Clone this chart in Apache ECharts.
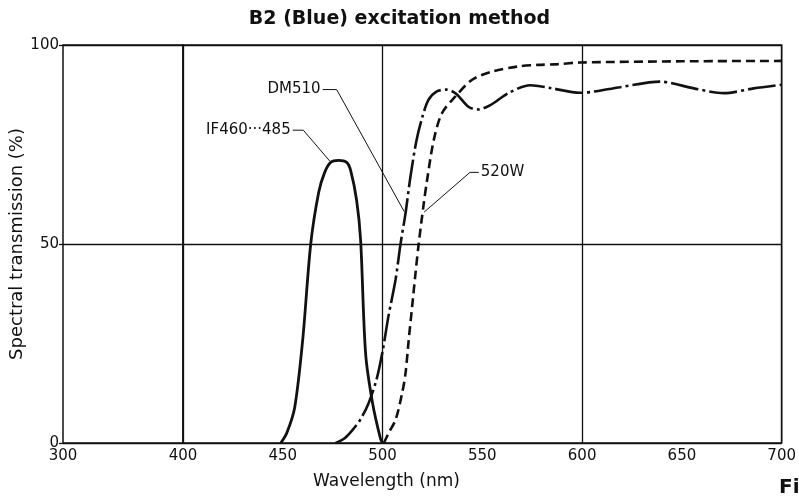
<!DOCTYPE html>
<html>
<head>
<meta charset="utf-8">
<title>B2 (Blue) excitation method</title>
<script src="https://cdn.jsdelivr.net/npm/echarts@6/dist/echarts.min.js"></script>
<style>
    html, body { margin: 0; padding: 0; background: #fff; }
    #echarts { width: 799px; height: 498px; }
</style>
</head>
<body>
<div id="echarts"></div>
<script>
// wavelengths (nm) and transmission (%)
var ifWave = [449, 452, 456, 460, 464, 468, 471, 474, 478, 482, 484, 487, 489, 491.5, 495, 499, 500];
var ifValue = [0, 2.5, 9, 26, 50, 63, 68, 70.5, 71, 70.5, 68.5, 61, 51, 22.5, 10, 1, 0];

var dmWave = [476.5, 481, 485, 489, 493, 497, 500, 503, 506.5, 509, 511.5, 514, 517, 520, 523, 527, 532, 537, 543, 548, 554, 563, 574, 584, 599, 619, 639, 656, 671, 686, 700];
var dmValue = [0, 1.2, 3.3, 6, 10, 16, 23, 32, 41, 50, 57.7, 67, 76, 82, 86.2, 88.3, 88.8, 87.7, 84.5, 83.8, 84.9, 87.9, 89.9, 89.2, 88.0, 89.4, 90.8, 89.1, 87.9, 89.1, 90.0];

var bwWave = [500.7, 503, 506.5, 509.8, 511.5, 513.1, 514.8, 516.5, 518.1, 520.6, 522.3, 525.6, 529.7, 536.4, 544.7, 554.6, 568, 578, 588, 599, 650, 700];
var bwValue = [0, 2.5, 5.8, 12.5, 17.5, 25.9, 34.2, 42.6, 50, 60, 66, 76, 82.8, 87, 91.2, 93.3, 94.6, 95.0, 95.2, 95.6, 95.9, 96.0];

// tick labels
var leftTicks = [300];
var rightTicks = [400, 450, 500, 550, 600, 650, 700];

// leader lines for the curve names (data coordinates)
var dmLeader = [[470, 88.8], [477, 88.8], [510.8, 58.2]];
var ifLeader = [[455, 78.6], [460.3, 78.6], [473.6, 70.8]];
var bwLeader = [[520.8, 58], [543.8, 68], [548.2, 68]];

function pairs(xs, ys) {
    var out = [];
    for (var i = 0; i < xs.length; i++) {
        out.push([xs[i], ys[i]]);
    }
    return out;
}

function leader(points, text, labelAt, pos) {
    var data = [];
    for (var i = 0; i < points.length; i++) {
        if (i == labelAt) {
            data.push({
                value: points[i],
                label: {show: true, formatter: text, position: pos, distance: 2,
                        color: '#111', fontSize: 15, fontFamily: 'DejaVu Sans'}
            });
        } else {
            data.push(points[i]);
        }
    }
    return {
        type: 'line', xAxisIndex: 1, yAxisIndex: 1, silent: true,
        showSymbol: true, symbol: 'circle', symbolSize: 0.1,
        itemStyle: {color: '#111'},
        lineStyle: {color: '#111', width: 1},
        data: data, z: 5
    };
}

var ink = '#111';
var gridLine = {show: true, lineStyle: {color: ink, width: 1.3}};
var tickFont = {color: ink, fontSize: 15, fontFamily: 'DejaVu Sans'};

var myChart = echarts.init(document.getElementById('echarts'));
var option = {
    animation: false,
    textStyle: {fontFamily: 'DejaVu Sans', color: ink},
    title: {
        text: 'B2 (Blue) excitation method',
        left: 'center', top: 5,
        textStyle: {fontSize: 19, fontWeight: 'bold', color: ink, fontFamily: 'DejaVu Sans'}
    },
    grid: [
        {left: 63, top: 45, width: 120, height: 398, show: true, borderColor: ink, borderWidth: 1.5},
        {left: 183, top: 45, width: 602, height: 398, show: true, borderColor: ink, borderWidth: 1.5}
    ],
    xAxis: [
        {
            type: 'value', gridIndex: 0, min: 300, max: 400, interval: 100,
            axisLine: {show: false}, axisTick: {show: false}, splitLine: {show: false},
            axisLabel: Object.assign({customValues: leftTicks, margin: 6}, tickFont)
        },
        {
            type: 'value', gridIndex: 1, min: 400, max: 700, interval: 100,
            axisLine: {show: false}, axisTick: {show: false}, splitLine: gridLine,
            axisLabel: Object.assign({customValues: rightTicks, margin: 6}, tickFont)
        }
    ],
    yAxis: [
        {
            type: 'value', gridIndex: 0, min: 0, max: 100, interval: 50,
            name: 'Spectral transmission (%)', nameLocation: 'middle', nameGap: 36,
            nameTextStyle: {fontSize: 18, color: ink, fontFamily: 'DejaVu Sans'},
            axisLine: {show: false},
            axisTick: {show: true, length: 4, lineStyle: {color: ink, width: 1.3}},
            splitLine: gridLine,
            axisLabel: Object.assign({margin: 4}, tickFont)
        },
        {
            type: 'value', gridIndex: 1, min: 0, max: 100, interval: 50,
            axisLine: {show: false}, axisTick: {show: false}, axisLabel: {show: false},
            splitLine: gridLine
        }
    ],
    graphic: [
        {type: 'text', left: 313, top: 473,
         style: {text: 'Wavelength (nm)', fill: ink, font: '17px "DejaVu Sans"'}},
        {type: 'text', left: 779, top: 478,
         style: {text: 'Fig.', fill: ink, font: 'bold 20px "DejaVu Sans"'}}
    ],
    series: [
        {
            name: 'IF460···485', type: 'line', xAxisIndex: 1, yAxisIndex: 1,
            showSymbol: false, smooth: 0.3, silent: true,
            lineStyle: {color: ink, width: 2.8},
            data: pairs(ifWave, ifValue), z: 4
        },
        {
            name: 'DM510', type: 'line', xAxisIndex: 1, yAxisIndex: 1,
            showSymbol: false, smooth: 0.3, silent: true,
            lineStyle: {color: ink, width: 2.6, type: [28, 4, 3, 4]},
            data: pairs(dmWave, dmValue), z: 4
        },
        {
            name: '520W', type: 'line', xAxisIndex: 1, yAxisIndex: 1,
            showSymbol: false, smooth: 0.3, silent: true,
            lineStyle: {color: ink, width: 2.6, type: [9, 5]},
            data: pairs(bwWave, bwValue), z: 4
        },
        leader(dmLeader, 'DM510', 0, 'left'),
        leader(ifLeader, 'IF460···485', 0, 'left'),
        leader(bwLeader, '520W', 2, 'right')
    ]
};
myChart.setOption(option);
</script>
</body>
</html>
